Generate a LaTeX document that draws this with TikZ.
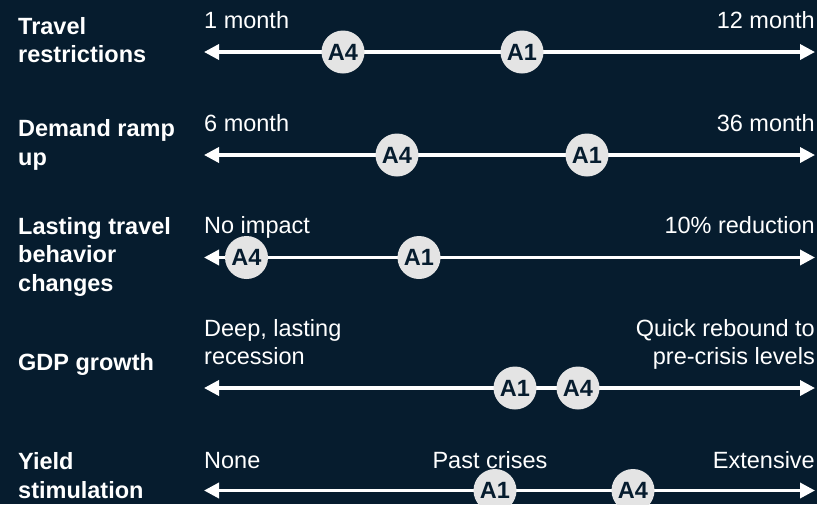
\documentclass[tikz,border=0pt]{standalone}
\usepackage{fontspec}
\setmainfont{Liberation Sans}
\usepackage{xcolor}
\usetikzlibrary{positioning,arrows.meta}
\definecolor{darkNavy}{HTML}{061C2E}
\definecolor{lightGrey}{HTML}{E4E4E4}
\tikzstyle{factorText}=[anchor=base west, align=left, inner sep=0pt, text=white, font=\fontsize{23.5}{28.5}\selectfont\bfseries]
\tikzstyle{lowText}   =[anchor=base west, align=left, inner sep=0pt, text=white, font=\fontsize{23.5}{28.5}\selectfont]
\tikzstyle{highText}  =[anchor=base east, align=right, inner sep=0pt, text=white, font=\fontsize{23.5}{28.5}\selectfont]
\tikzstyle{midText}   =[anchor=base, inner sep=0pt, text=white, font=\fontsize{23.5}{28.5}\selectfont]
\tikzstyle{axisLine}  =[draw=white, line width=3.5pt, {Triangle[length=15pt,width=15pt]}-{Triangle[length=15pt,width=15pt]}]
\tikzstyle{nodeCase}  =[circle, fill=lightGrey, minimum size=43pt, inner sep=0pt, text=darkNavy, font=\fontsize{23.5}{23.5}\selectfont\bfseries]

\begin{document}
\begin{tikzpicture}[x=1pt, y=-1pt]
        \useasboundingbox (0,0) rectangle (817,504);
        \fill[darkNavy] (0,0) rectangle (817,504);
        % row 1 (multi-line texts sit on their last line)
        \node[factorText] (f1) at (18,62.5) {Travel\\restrictions};
        \node[lowText] (lo1) at (204,28) {1 month};
        \node[highText] (hi1) at (815,28) {12 month};
        \coordinate (L1) at (204,52);
        \coordinate (R1) at (815,52);
        \draw[axisLine] (L1) -- (R1);
        \node[nodeCase] (r1a4) at (343,52) {A4};
        \node[nodeCase] (r1a1) at (522,52) {A1};
        % row 2
        \node[factorText] (f2) at (18,165) {Demand ramp\\up};
        \node[lowText] (lo2) at (204,131.5) {6 month};
        \node[highText] (hi2) at (815,131.5) {36 month};
        \coordinate (L2) at (204,155);
        \coordinate (R2) at (815,155);
        \draw[axisLine] (L2) -- (R2);
        \node[nodeCase] (r2a4) at (397,155) {A4};
        \node[nodeCase] (r2a1) at (587,155) {A1};
        % row 3
        \node[factorText] (f3) at (18,291) {Lasting travel\\behavior\\changes};
        \node[lowText] (lo3) at (204,233.5) {No impact};
        \node[highText] (hi3) at (815,233.5) {10\% reduction};
        \coordinate (L3) at (204,257.5);
        \coordinate (R3) at (815,257.5);
        \draw[axisLine] (L3) -- (R3);
        \node[nodeCase] (r3a4) at (246.5,257.5) {A4};
        \node[nodeCase] (r3a1) at (419,257.5) {A1};
        % row 4
        \node[factorText] (f4) at (18,370.5) {GDP growth};
        \node[lowText] (lo4) at (204,364.5) {Deep, lasting\\recession};
        \node[highText] (hi4) at (815,364.5) {Quick rebound to\\pre-crisis levels};
        \coordinate (L4) at (204,388);
        \coordinate (R4) at (815,388);
        \draw[axisLine] (L4) -- (R4);
        \node[nodeCase] (r4a1) at (515,388) {A1};
        \node[nodeCase] (r4a4) at (578,388) {A4};
        % row 5
        \node[factorText] (f5) at (18,498) {Yield\\stimulation};
        \node[lowText] (lo5) at (204,468) {None};
        \node[midText] (mid5) at (490,468) {Past crises};
        \node[highText] (hi5) at (815,468) {Extensive};
        \coordinate (L5) at (204,490.5);
        \coordinate (R5) at (815,490.5);
        \draw[axisLine] (L5) -- (R5);
        \node[nodeCase] (r5a1) at (495,490.5) {A1};
        \node[nodeCase] (r5a4) at (633,490.5) {A4};
      \end{tikzpicture}
\end{document}
